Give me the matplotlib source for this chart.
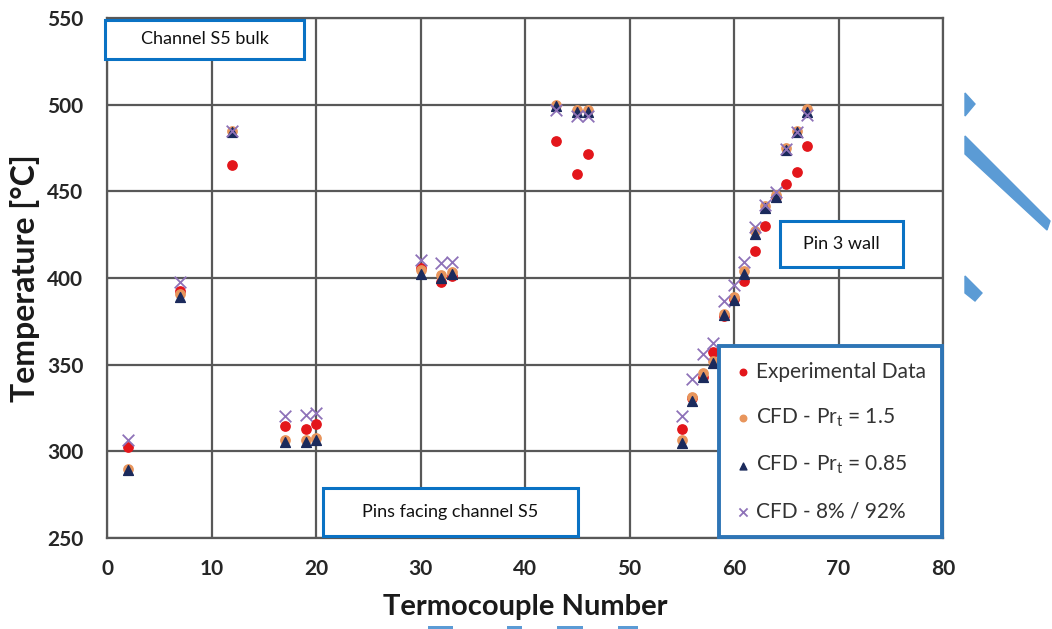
import matplotlib.pyplot as plt
from matplotlib.patches import Rectangle, Polygon

plt.rcParams['font.family'] = ['Lato', 'DejaVu Sans']
plt.rcParams['mathtext.fontset'] = 'custom'
plt.rcParams['mathtext.rm'] = 'Lato'
plt.rcParams['mathtext.it'] = 'Lato:italic'

# thermocouple numbers and temperatures
tc = [2, 7, 12, 17, 19, 20, 30, 32, 33, 43, 45, 46, 55, 56, 57, 58, 59, 60, 61, 62, 63, 64, 65, 66, 67]
exp_data = [302.5, 392.5, 465, 314.5, 313, 316, 406, 397.5, 401, 479, 460, 471.5, 313, 331, 343,
            357.5, 378, 388, 398, 415.5, 430, 447, 454, 461, 476]
cfd_15 = [290, 391, 485, 306.5, 306.5, 307.5, 404.5, 401.5, 403.5, 500, 497, 497, 306.5, 331.5, 345,
          352, 379.5, 389, 404, 427, 441.5, 448, 475, 485, 497.5]
cfd_085 = [289.5, 389, 484.5, 305.5, 305.5, 306.5, 402.5, 400, 402.5, 499, 496, 496, 305, 329, 343,
           351, 378.5, 387.5, 402.5, 425.5, 440.5, 447, 474, 484, 496]
cfd_8 = [306.5, 397.5, 485, 320.5, 321, 322, 410.5, 408.5, 409.5, 497, 493.5, 493.5, 320.5, 342, 356,
         362.5, 387, 396, 409.5, 429.5, 442, 449.5, 474.5, 484.5, 494]

W, H = 1052, 629
fig = plt.figure(figsize=(W / 100, H / 100), dpi=100)
ax = fig.add_axes([107 / W, 1 - 538 / H, 836 / W, 520 / H])


def px(x, y):
    return (x / W, 1 - y / H)


ax.scatter(tc, exp_data, s=45, color='#e3161b', marker='o', label='Experimental Data', zorder=3)
ax.scatter(tc, cfd_15, s=45, color='#e8955c', marker='o', label='CFD - Pr$_\\mathrm{t}$ = 1.5', zorder=3)
ax.scatter(tc, cfd_085, s=50, color='#1b2a5c', marker='^', label='CFD - Pr$_\\mathrm{t}$ = 0.85', zorder=4)
ax.scatter(tc, cfd_8, s=70, color='#8e72b8', marker='x', linewidths=1.3, label='CFD - 8% / 92%', zorder=5)

ax.set_xlim(0, 80)
ax.set_ylim(250, 550)
ax.set_xticks(range(0, 81, 10))
ax.set_yticks(range(250, 551, 50))
ax.grid(True, color='#585858', linewidth=1.6)
ax.set_axisbelow(True)
for sp in ax.spines.values():
    sp.set_color('#585858')
    sp.set_linewidth(1.6)
ax.tick_params(axis='y', length=0, pad=17, labelsize=15, labelcolor='#262626')
ax.tick_params(axis='x', length=0, pad=15, labelsize=15, labelcolor='#262626')
for lab in ax.get_xticklabels() + ax.get_yticklabels():
    lab.set_fontweight('bold')

ax.set_xlabel('Termocouple Number', fontsize=21, fontweight='bold', color='#1a1a1a', labelpad=11)
ax.set_ylabel('Temperature [°C]', fontsize=23, fontweight='bold', color='#1a1a1a', labelpad=5)

leg = ax.legend(loc='lower right', bbox_to_anchor=(1.0, 0.0), borderaxespad=0.05, fontsize=15,
                labelspacing=1.2, handletextpad=0.25, handlelength=0.8, borderpad=0.75,
                markerscale=0.7, fancybox=False, framealpha=1, labelcolor='#333333')
leg.get_frame().set_edgecolor('#2e75b6')
leg.get_frame().set_linewidth(2.8)


def text_box(x0, y0, x1, y1, label):
    (fx0, fy1), (fx1, fy0) = px(x0, y0), px(x1, y1)
    fig.add_artist(Rectangle((fx0, fy0), fx1 - fx0, fy1 - fy0, transform=fig.transFigure,
                             facecolor='white', edgecolor='#0a72c4', linewidth=2.2, zorder=10))
    fig.text((fx0 + fx1) / 2, (fy0 + fy1) / 2, label, ha='center', va='center',
             fontsize=13, color='#111111', zorder=11)


text_box(105, 20, 304, 59, 'Channel S5 bulk')
text_box(780, 221, 903, 267, 'Pin 3 wall')
text_box(323, 488, 578, 536, 'Pins facing channel S5')

# slide decorations outside the chart
deco = '#5b9bd5'
for pts in [[(965, 93), (975, 104), (965, 116)],
            [(965, 136), (1050, 221), (1047, 230), (965, 154)],
            [(965, 276), (982, 293), (975, 301), (965, 293)]]:
    fig.add_artist(Polygon([px(*p) for p in pts], closed=True, transform=fig.transFigure,
                           facecolor=deco, edgecolor=deco, linewidth=1))
for x0, x1 in [(428, 453), (507, 522), (557, 583), (618, 638)]:
    (fx0, fy1), (fx1, fy0) = px(x0, 626), px(x1, 629)
    fig.add_artist(Rectangle((fx0, fy0), fx1 - fx0, fy1 - fy0, transform=fig.transFigure,
                             facecolor=deco, edgecolor='none'))

fig.savefig('out.png', dpi=100)
